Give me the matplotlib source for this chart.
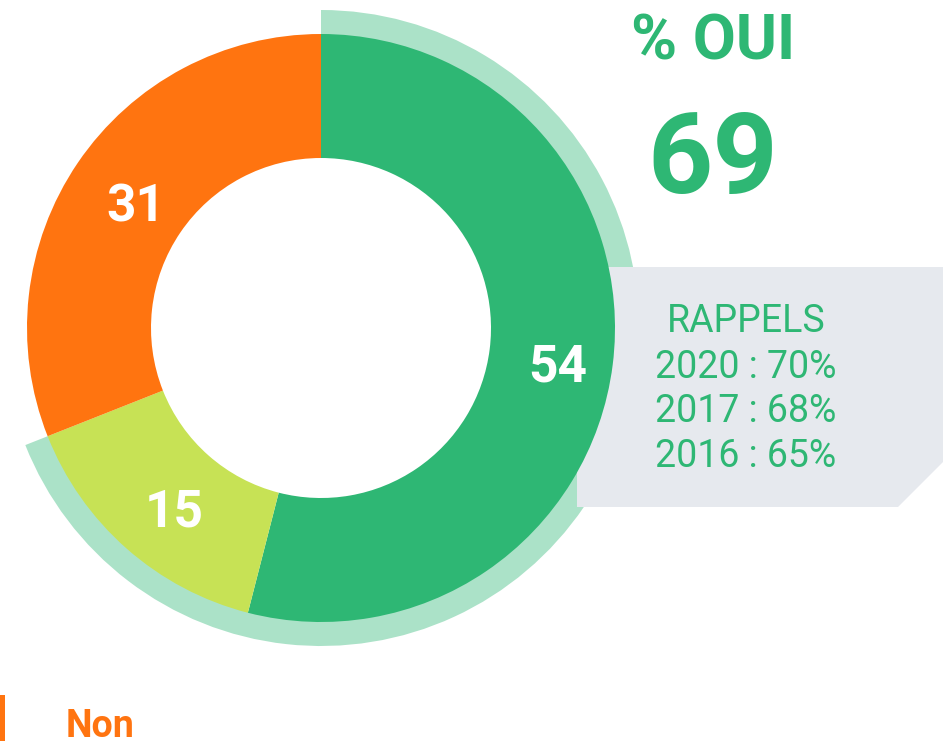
import matplotlib.pyplot as plt
from matplotlib.patches import Polygon

# Donut values (clockwise from top)
labels = ["Oui, tout à fait", "Oui, plutôt", "Non"]
values = [54, 15, 31]
colors = ["#2EB774", "#C7E255", "#FF7410"]

oui_total = 69
rappels_title = "RAPPELS"
rappels_years = ["2020", "2017", "2016"]
rappels_values = [70, 68, 65]

GREEN = "#2EB774"
LIGHT = "#ABE2C8"
BOX = "#E6E9EE"
ORANGE = "#FF7410"

W, H = 951, 741
fig = plt.figure(figsize=(W / 100, H / 100), dpi=100)
ax = fig.add_axes([0, 0, 1, 1])

cx, cy = 321, H - 328
R_out, R_in, R_ring = 294, 170, 318

# light "oui" ring behind the donut
ax.pie([oui_total, 100 - oui_total], radius=R_ring, center=(cx, cy),
       startangle=90, counterclock=False, colors=[LIGHT, "none"],
       wedgeprops=dict(width=R_ring - R_out + 2, linewidth=0))

# grey box with the reminders (cut corner bottom right)
box = Polygon([(577, H - 267), (943, H - 267), (943, H - 462),
               (898, H - 507), (577, H - 507)],
              closed=True, facecolor=BOX, edgecolor="none", zorder=1)
ax.add_patch(box)

wedges, _, autotexts = ax.pie(
    values, radius=R_out, center=(cx, cy), startangle=90, counterclock=False,
    colors=colors, autopct=lambda p: f"{p:.0f}",
    pctdistance=(R_in + R_out) / 2 / R_out,
    wedgeprops=dict(width=R_out - R_in, linewidth=0),
)
for w in wedges:
    w.set_zorder(2)
for t in autotexts:
    x, y = t.get_position()
    t.set_position((x + 7, y - 10))
    t.set_color("white")
    t.set_fontsize(37)
    t.set_fontweight("bold")
    t.set_fontfamily("Roboto")
    t.set_zorder(3)

# headline
ax.text(713, H - 60, "% OUI", ha="center", va="baseline", color=GREEN,
        fontsize=45, fontweight="bold", family="Roboto")
ax.text(713, H - 193, str(oui_total), ha="center", va="baseline", color=GREEN,
        fontsize=82, fontweight="bold", family="Roboto")

# reminders
ax.text(746, H - 332, rappels_title, ha="center", va="baseline", color=GREEN,
        fontsize=27, fontweight="normal", family="Roboto", zorder=4)
for yb, yr, v in zip([378, 422, 467], rappels_years, rappels_values):
    ax.text(746, H - yb, f"{yr} : {v}%", ha="center", va="baseline",
            color=GREEN, fontsize=27, fontweight="normal", family="Roboto",
            zorder=4)

# legend entry
ax.add_patch(plt.Rectangle((0, 0), 5, H - 695, facecolor=ORANGE,
                           edgecolor="none"))
ax.text(66, H - 737, labels[2], ha="left", va="baseline", color=ORANGE,
        fontsize=27, fontweight="bold", family="Roboto")

ax.set_xlim(0, W)
ax.set_ylim(0, H)
ax.set_aspect("equal")
ax.axis("off")

fig.savefig("out.png", dpi=100)
